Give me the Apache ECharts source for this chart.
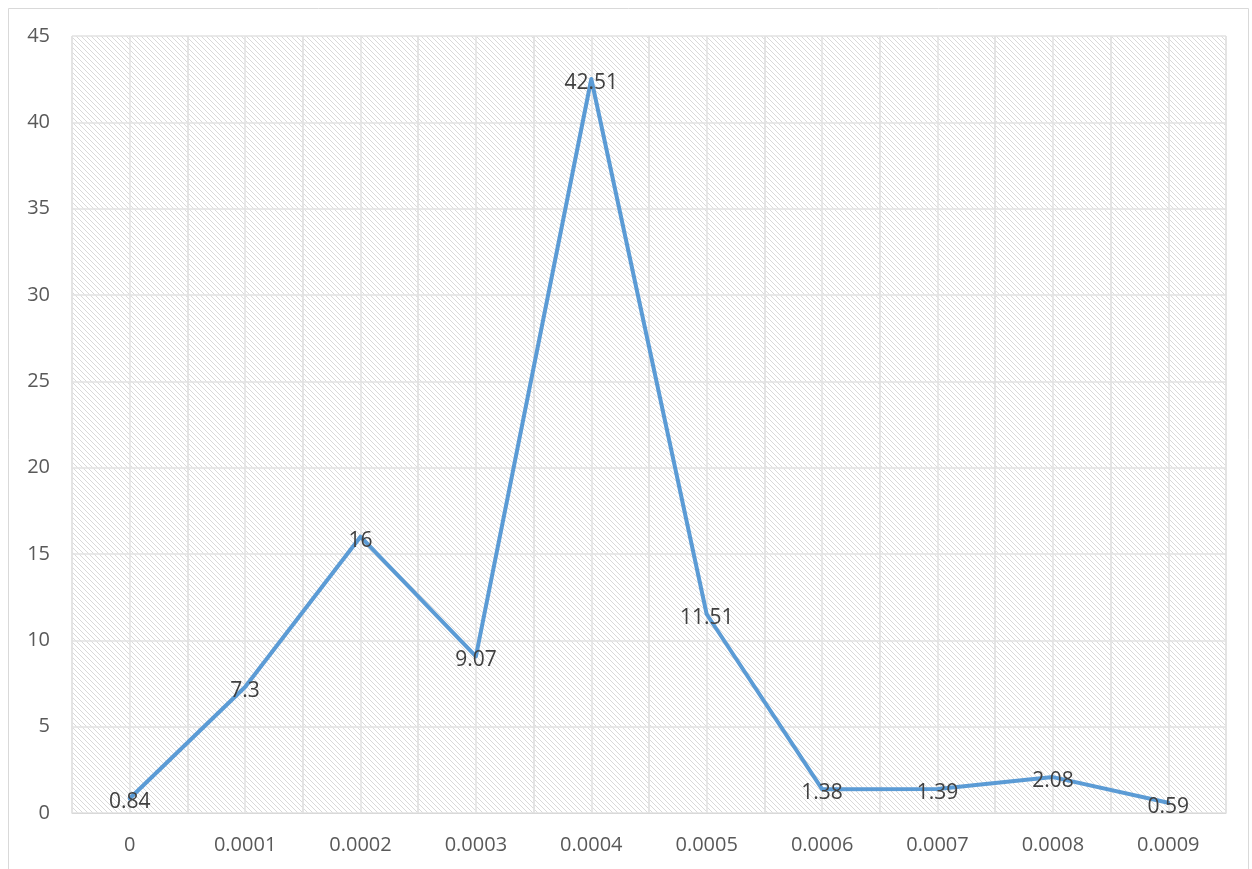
<!DOCTYPE html>
<html>
<head>
<meta charset="utf-8">
<script src="https://cdn.jsdelivr.net/npm/echarts@6/dist/echarts.min.js"></script>
<style>
  html, body { margin: 0; padding: 0; background: #ffffff; }
  #chart { width: 1252px; height: 869px; }
</style>
</head>
<body>
<div id="chart"></div>
<script>
// Categories along the x axis
const categories = ['0', '0.0001', '0.0002', '0.0003', '0.0004', '0.0005', '0.0006', '0.0007', '0.0008', '0.0009'];
// Series values
const values = [0.84, 7.3, 16, 9.07, 42.51, 11.51, 1.38, 1.39, 2.08, 0.59];
// Y axis range
const yMin = 0, yMax = 45, yStep = 5;

// Diagonal hatch tile for the plot background
function hatchTile() {
  const n = 5;
  const c = document.createElement('canvas');
  c.width = n; c.height = n;
  const g = c.getContext('2d');
  g.fillStyle = '#ffffff';
  g.fillRect(0, 0, n, n);
  g.fillStyle = '#d9d9d9';
  for (let i = 0; i < n; i++) g.fillRect(i, i, 1, 1);
  return c;
}

const chart = echarts.init(document.getElementById('chart'), null, { renderer: 'canvas' });
const font = '"Open Sans", "Liberation Sans", sans-serif';

chart.setOption({
  animation: false,
  backgroundColor: '#ffffff',
  graphic: [{
    type: 'rect',
    shape: { x: 8.5, y: 8.5, width: 1240, height: 880 },
    style: { fill: 'none', stroke: '#d9d9d9', lineWidth: 1 },
    silent: true
  }],
  grid: {
    left: 72, right: 26, top: 36, bottom: 56,
    show: true,
    borderWidth: 0,
    backgroundColor: { image: hatchTile(), repeat: 'repeat' }
  },
  xAxis: [{
    type: 'category',
    data: categories,
    boundaryGap: true,
    axisLine: { show: true, lineStyle: { color: '#d9d9d9', width: 1 } },
    axisTick: { show: false },
    axisLabel: { color: '#595959', fontSize: 20, fontFamily: font, margin: 22 },
    splitLine: { show: true, lineStyle: { color: '#e2e2e2', width: 1.5 } }
  }, {
    // half-category grid lines through each category centre
    type: 'value',
    min: 0, max: categories.length * 2, interval: 1,
    show: true,
    axisLine: { show: false }, axisTick: { show: false }, axisLabel: { show: false },
    splitLine: { show: true, lineStyle: { color: '#e2e2e2', width: 1.5 } }
  }],
  yAxis: {
    type: 'value',
    min: yMin, max: yMax, interval: yStep,
    axisLine: { show: false },
    axisTick: { show: false },
    axisLabel: { color: '#595959', fontSize: 20, fontFamily: font, margin: 22 },
    splitLine: { show: true, lineStyle: { color: '#e2e2e2', width: 1.5 } }
  },
  series: [{
    type: 'line',
    xAxisIndex: 0,
    data: values,
    showSymbol: true,
    showAllSymbol: true,
    symbol: 'circle',
    symbolSize: 2,
    itemStyle: { color: 'rgba(91,155,213,0)' },
    lineStyle: { color: '#5b9bd5', width: 4, cap: 'round', join: 'round' },
    label: {
      show: true,
      position: [1, 5],
      align: 'center',
      verticalAlign: 'middle',
      color: '#404040',
      fontSize: 21,
      fontFamily: font,
      formatter: p => String(p.value)
    },
    labelLayout: { hideOverlap: false },
    z: 5
  }]
});
</script>
</body>
</html>
